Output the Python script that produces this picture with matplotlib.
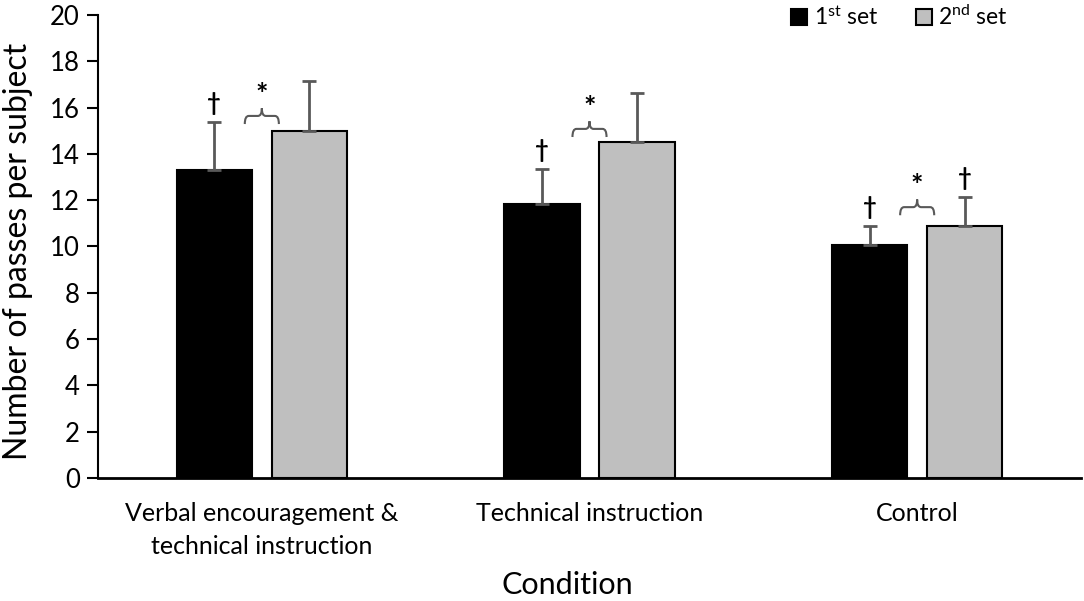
import numpy as np
import matplotlib
matplotlib.use("Agg")
import matplotlib.pyplot as plt
from matplotlib.path import Path
from matplotlib.patches import PathPatch

plt.rcParams['font.family'] = ['Lato', 'DejaVu Sans']
plt.rcParams['mathtext.fontset'] = 'custom'
plt.rcParams['mathtext.rm'] = 'Lato'
plt.rcParams['mathtext.it'] = 'Lato:italic'

conditions = ['Verbal encouragement &\ntechnical instruction', 'Technical instruction', 'Control']
set1_mean = [13.3, 11.84, 10.05]
set1_err = [2.08, 1.51, 0.85]
set2_mean = [15.0, 14.5, 10.9]
set2_err = [2.15, 2.13, 1.25]
dagger_set1 = [True, True, True]
dagger_set2 = [False, False, True]
bracket_y = [15.64, 15.08, 11.7]  # level of the * brackets

fig = plt.figure(figsize=(10.84, 6.01), dpi=100)
ax = fig.add_axes([98 / 1084, 1 - 478 / 601, (1081 - 98) / 1084, (478 - 15) / 601])

x = np.arange(len(conditions))
w = 0.229
off = 0.145
err_kw = dict(ecolor='#595959', elinewidth=2, capsize=5, capthick=2)
ax.bar(x - off, set1_mean, w, color='black', edgecolor='black', linewidth=1.5,
       yerr=[np.zeros(3), set1_err], error_kw=err_kw, label=r'1$^{\mathrm{st}}$ set', zorder=2)
ax.bar(x + off, set2_mean, w, color='#bfbfbf', edgecolor='black', linewidth=1.5,
       yerr=[np.zeros(3), set2_err], error_kw=err_kw, label=r'2$^{\mathrm{nd}}$ set', zorder=2)

# significance marks
for i in range(len(conditions)):
    top1 = set1_mean[i] + set1_err[i]
    top2 = set2_mean[i] + set2_err[i]
    if dagger_set1[i]:
        ax.text(x[i] - off, top1 + 0.3, '\u2020', ha='center', va='bottom', fontsize=17, fontweight='bold')
    if dagger_set2[i]:
        ax.text(x[i] + off, top2 + 0.3, '\u2020', ha='center', va='bottom', fontsize=17, fontweight='bold')
    # curly bracket between the two bars
    yb = bracket_y[i]
    x0, x1 = x[i] - 0.052, x[i] + 0.052
    xc = x[i]
    h = 0.35
    t = 0.33
    r = 0.012
    verts = [(x0, yb - h), (x0, yb), (x0 + r, yb), (xc - r, yb), (xc, yb), (xc, yb + t),
             (xc, yb + t), (xc, yb), (xc + r, yb), (x1 - r, yb), (x1, yb), (x1, yb - h)]
    codes = [Path.MOVETO, Path.CURVE3, Path.CURVE3, Path.LINETO, Path.CURVE3, Path.CURVE3,
             Path.MOVETO, Path.CURVE3, Path.CURVE3, Path.LINETO, Path.CURVE3, Path.CURVE3]
    ax.add_patch(PathPatch(Path(verts, codes), fill=False, edgecolor='#595959', lw=1.5, zorder=3))
    ax.text(xc, yb + 0.35, '*', ha='center', va='bottom', fontsize=21, fontweight='bold')

ax.set_xlim(-0.5, 2.5)
ax.set_ylim(0, 20)
ax.set_yticks(np.arange(0, 21, 2))
ax.set_xticks(x)
ax.set_xticklabels(conditions, fontsize=18, linespacing=1.55)
ax.tick_params(axis='x', length=0, pad=17)
ax.tick_params(axis='y', length=8, width=1.5, labelsize=18.5, pad=5)
for s in ['top', 'right']:
    ax.spines[s].set_visible(False)
ax.spines['left'].set_linewidth(1.5)
ax.spines['bottom'].set_linewidth(2)
ax.set_ylabel('Number of passes per subject', fontsize=23, va='center')
ax.yaxis.set_label_coords(-0.081, 0.49)
ax.set_xlabel('Condition', fontsize=22, va='center')
ax.xaxis.set_label_coords(0.477, -0.232)

leg = ax.legend(loc='upper right', bbox_to_anchor=(0.947, 1.066), ncol=2, frameon=False, fontsize=16.5,
                handlelength=0.7, handleheight=0.7, handletextpad=0.3, columnspacing=1.6)

fig.savefig('out.png', dpi=100)
